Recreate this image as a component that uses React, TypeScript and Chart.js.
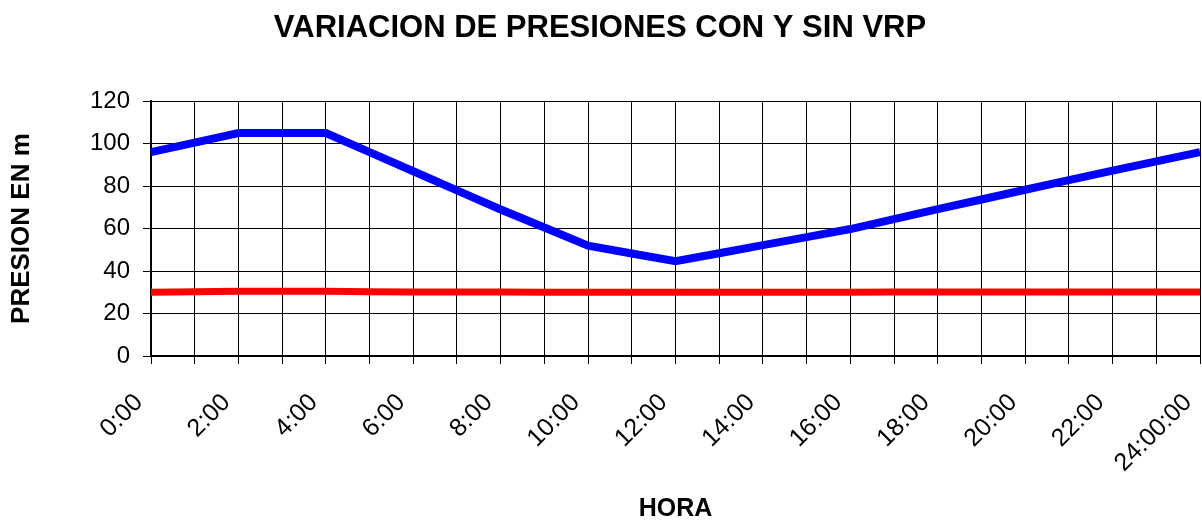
import React, { useEffect, useRef } from "react";
import { Chart, registerables } from "chart.js";

Chart.register(...registerables);

const hours: string[] = [
  "0:00", "1:00", "2:00", "3:00", "4:00", "5:00", "6:00", "7:00", "8:00",
  "9:00", "10:00", "11:00", "12:00", "13:00", "14:00", "15:00", "16:00",
  "17:00", "18:00", "19:00", "20:00", "21:00", "22:00", "23:00", "24:00:00",
];

const sinVrp: number[] = [
  96, 100.5, 105, 105, 105, 96, 87, 78, 69, 60.5, 52, 48.3, 44.6, 48.4,
  52.2, 56, 59.8, 64.5, 69.2, 73.7, 78.3, 82.8, 87.3, 91.7, 96,
];

const conVrp: number[] = [
  30, 30.3, 30.5, 30.5, 30.5, 30.3, 30.2, 30.2, 30.1, 30, 30, 30, 30, 30,
  30, 30, 30, 30.1, 30.2, 30.2, 30.2, 30.2, 30.2, 30.2, 30.2,
];

const yTicks: number[] = [0, 20, 40, 60, 80, 100, 120];

const FONT = "'Liberation Sans', Arial, sans-serif";

export default function App() {
  const ref = useRef<HTMLCanvasElement | null>(null);

  useEffect(() => {
    if (!ref.current) return;
    const chart = new Chart(ref.current, {
      type: "line",
      data: {
        labels: hours,
        datasets: [
          {
            label: "SIN VRP",
            data: sinVrp,
            borderColor: "#0000FF",
            backgroundColor: "#0000FF",
            borderWidth: 8,
            pointRadius: 0,
            tension: 0,
            borderJoinStyle: "miter",
          },
          {
            label: "CON VRP",
            data: conVrp,
            borderColor: "#FF0000",
            backgroundColor: "#FF0000",
            borderWidth: 7,
            pointRadius: 0,
            tension: 0,
          },
        ],
      },
      options: {
        responsive: false,
        animation: false,
        layout: { padding: { left: 0, right: 2, top: 0, bottom: 0 } },
        plugins: {
          legend: { display: false },
          tooltip: { enabled: false },
          title: {
            display: true,
            text: "VARIACION DE PRESIONES CON Y SIN VRP",
            color: "#000",
            font: { family: FONT, size: 31, weight: "bold" },
            padding: { top: 10, bottom: 54 },
          },
        },
        scales: {
          x: {
            type: "category",
            offset: false,
            grid: {
              color: "#000",
              lineWidth: 1,
              drawTicks: true,
              tickLength: 8,
              tickColor: "#000",
            },
            border: { display: true, color: "#000", width: 2 },
            ticks: {
              autoSkip: false,
              maxRotation: 45,
              minRotation: 45,
              padding: 24,
              labelOffset: -12,
              color: "#000",
              font: { family: FONT, size: 25 },
              callback: (_v: any, i: number) => (i % 2 === 0 ? hours[i] : ""),
            },
            title: {
              display: true,
              text: "HORA",
              color: "#000",
              font: { family: FONT, size: 25, weight: "bold" },
              padding: { top: 0, bottom: 0 },
            },
            afterFit: (s: any) => {
              s.height = 168;
              s.paddingLeft = 0;
              s.paddingRight = 0;
            },
          },
          y: {
            min: 0,
            max: 120,
            afterBuildTicks: (s: any) => {
              s.ticks = yTicks.map((v) => ({ value: v }));
            },
            grid: {
              color: "#000",
              lineWidth: 1,
              drawTicks: true,
              tickLength: 8,
              tickColor: "#000",
            },
            border: { display: true, color: "#000", width: 2 },
            ticks: {
              padding: 13,
              color: "#000",
              font: { family: FONT, size: 24 },
            },
            title: {
              display: true,
              text: "PRESION EN m",
              color: "#000",
              font: { family: FONT, size: 26, weight: "bold" },
              padding: { top: 6, bottom: 0 },
            },
            afterFit: (s: any) => {
              s.width = 151;
            },
          },
        },
      },
    });
    return () => chart.destroy();
  }, []);

  return (
    <canvas
      ref={ref}
      width={1202}
      height={524}
      style={{ position: "absolute", left: 0, top: 0, width: 1202, height: 524 }}
    />
  );
}
